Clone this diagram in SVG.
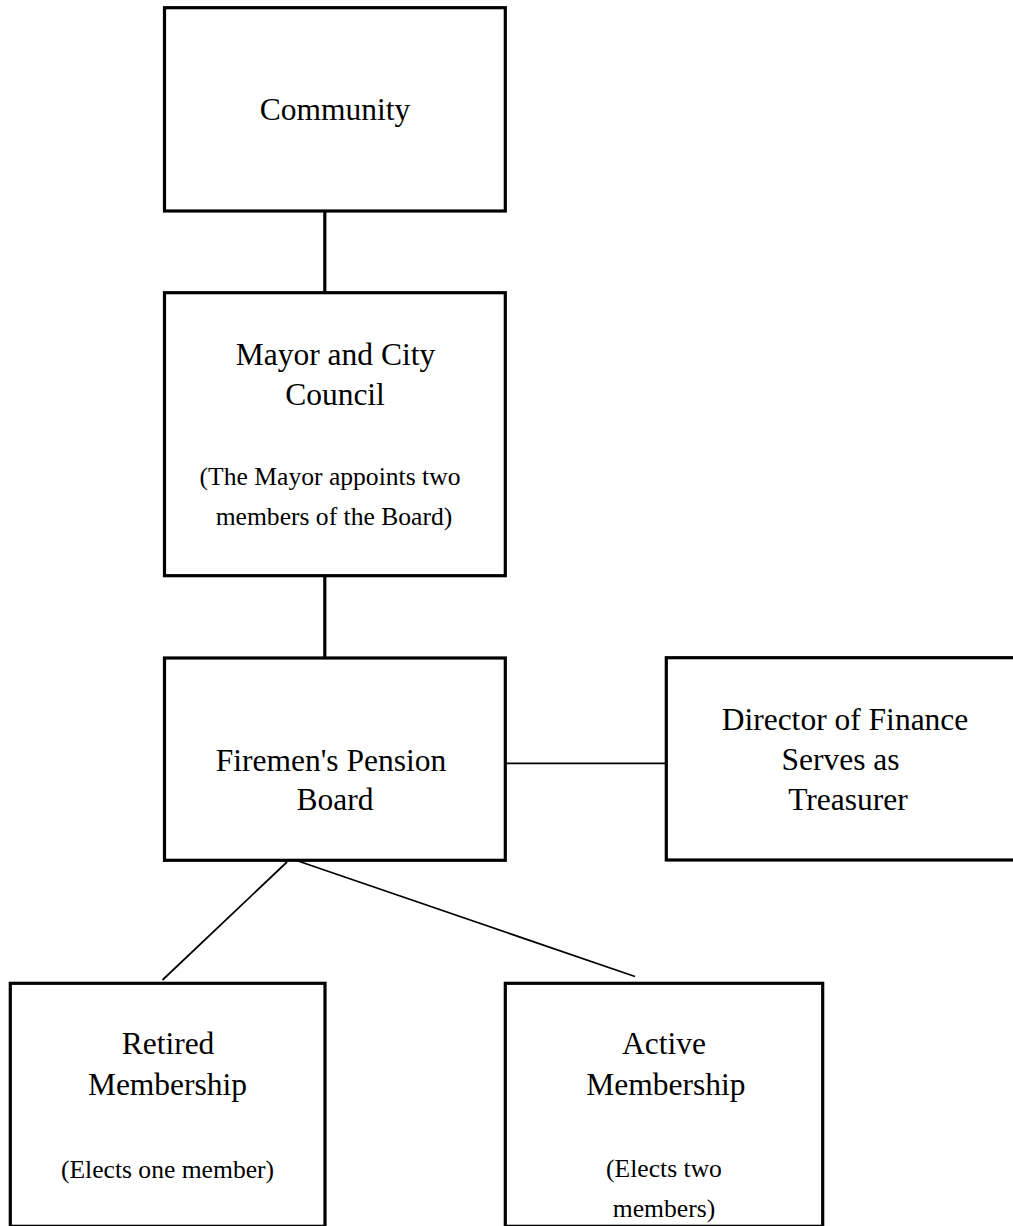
<svg xmlns="http://www.w3.org/2000/svg" width="1013" height="1226" viewBox="0 0 1013 1226">
<style>
.box{fill:#fff;stroke:#000;stroke-width:3.2}
.t{font-family:"Liberation Serif","Times New Roman",serif;font-size:31.5px;fill:#000;text-anchor:middle}
.s{font-family:"Liberation Serif","Times New Roman",serif;font-size:25.6px;fill:#000;text-anchor:middle}
.thick{stroke:#000;stroke-width:3.2;fill:none}
.thin{stroke:#000;stroke-width:1.8;fill:none}
</style>
<rect width="1013" height="1226" fill="#fff"/>
<g id="connectors">
<line class="thick" x1="324.8" y1="211" x2="324.8" y2="292.7"/>
<line class="thick" x1="324.8" y1="575.7" x2="324.8" y2="658"/>
<line class="thin" x1="506" y1="763.3" x2="666" y2="763.3"/>
<line class="thin" x1="287" y1="862" x2="162.5" y2="980"/>
<line class="thin" x1="298" y1="861" x2="635" y2="976.5"/>
</g>
<g id="community">
<rect class="box" x="164.5" y="7.7" width="340.8" height="203.3"/>
<text class="t" x="335" y="120">Community</text>
</g>
<g id="mayor">
<rect class="box" x="164.5" y="292.7" width="340.8" height="283"/>
<text class="t" x="335.5" y="364.5">Mayor and City</text>
<text class="t" x="335" y="405">Council</text>
<text class="s" x="330" y="484.5">(The Mayor appoints two</text>
<text class="s" x="334" y="525">members of the Board)</text>
</g>
<g id="board">
<rect class="box" x="164.5" y="658" width="340.8" height="202.3"/>
<text class="t" x="331" y="771">Firemen's Pension</text>
<text class="t" x="335" y="810">Board</text>
</g>
<g id="director">
<rect class="box" x="666.3" y="657.7" width="360" height="202.3"/>
<text class="t" x="845" y="729.5">Director of Finance</text>
<text class="t" x="840.5" y="770">Serves as</text>
<text class="t" x="848" y="810">Treasurer</text>
</g>
<g id="retired">
<rect class="box" x="10.3" y="983.3" width="314.7" height="243"/>
<text class="t" x="168" y="1054">Retired</text>
<text class="t" x="167.5" y="1095">Membership</text>
<text class="s" x="167.5" y="1178">(Elects one member)</text>
</g>
<g id="active">
<rect class="box" x="505.3" y="983.3" width="317.4" height="243"/>
<text class="t" x="664" y="1054">Active</text>
<text class="t" x="665.8" y="1095">Membership</text>
<text class="s" x="664" y="1177">(Elects two</text>
<text class="s" x="664" y="1217">members)</text>
</g>
</svg>
